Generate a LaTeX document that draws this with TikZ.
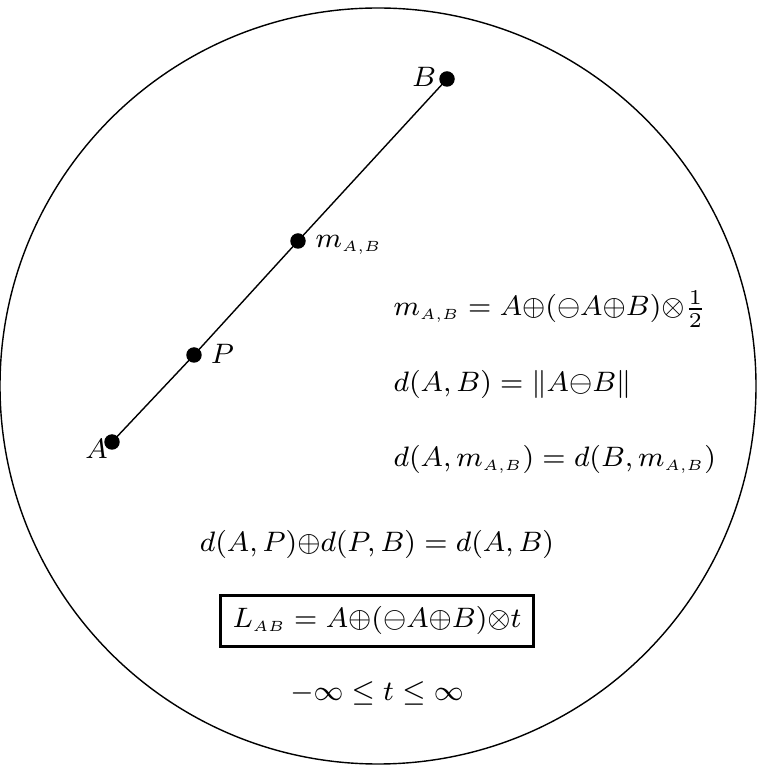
\RequirePackage{fix-cm}
\documentclass[tikz,border=0pt]{standalone}
\usepackage{amsmath,amsfonts,amssymb}
\DeclareMathSizes{8}{8}{6}{4.2}
\begin{document}
\begin{tikzpicture}[font=\fontsize{8}{10}\selectfont]
	% Границы рисунка
	\useasboundingbox (0,0) rectangle (7.65,7.65);
	
	% Окружность (граница модели)
	\draw (3.78,3.79) circle (3.78);
	
	% Точки на прямой
	\coordinate (A) at (1.12,3.23);
	\coordinate (P) at (1.94,4.10);
	\coordinate (M) at (2.98,5.24);
	\coordinate (B) at (4.47,6.86);
	
	% Отрезок AB
	\draw (A) -- (P) -- (M) -- (B);
	
	% Жирные точки
	\filldraw (A) circle (2pt);
	\filldraw (P) circle (2pt);
	\filldraw (M) circle (2pt);
	\filldraw (B) circle (2pt);
	
	% Подписи точек
	\node (lA) at (0.965,3.165) {$A$};
	\node (lP) at (2.225,4.11) {$P$};
	\node (lB) at (4.24,6.88) {$B$};
	\node[anchor=base west, inner sep=0pt] (lM) at (3.15,5.17) {$m_{\scriptscriptstyle A,B}$};
	
	% Формулы справа
	\node[anchor=base west, inner sep=0pt] (f1) at (3.93,4.49) {$m_{\scriptscriptstyle A,B} = A{\oplus}(\ominus A{\oplus}B){\otimes}\frac{1}{2}$};
	\node[anchor=base west, inner sep=0pt] (f2) at (3.93,3.73) {$d(A,B) = \|A{\ominus}B\|$};
	\node[anchor=base west, inner sep=0pt] (f3) at (3.93,2.98) {$d(A,m_{\scriptscriptstyle A,B}) = d(B,m_{\scriptscriptstyle A,B})$};
	
	% Формулы по центру
	\node[anchor=base] (f4) at (3.77,2.13) {$d(A,P){\oplus}d(P,B) = d(A,B)$};
	\node[anchor=base, draw, line width=0.8pt] (f5) at (3.77,1.37) {$L_{\scriptscriptstyle AB} = A{\oplus}(\ominus A{\oplus}B){\otimes}t$};
	\node[anchor=base] (f6) at (3.77,0.65) {$-\infty \leq t \leq \infty$};
\end{tikzpicture}
\end{document}
